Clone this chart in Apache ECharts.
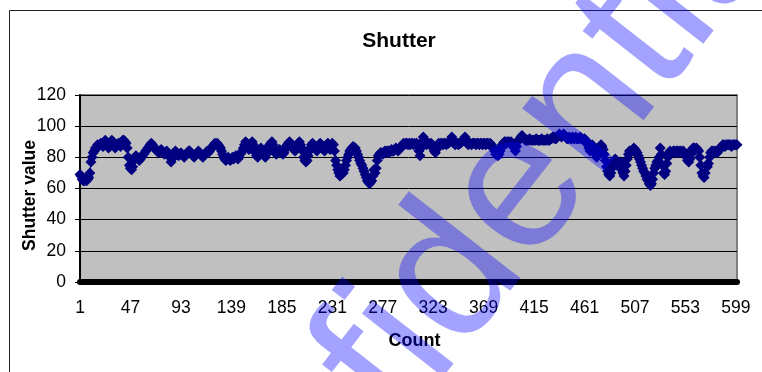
<!DOCTYPE html>
<html>
<head>
<meta charset="utf-8">
<style>
  html, body { margin: 0; padding: 0; background: #ffffff; }
  #chart { width: 762px; height: 372px; }
</style>
<script src="https://cdn.jsdelivr.net/npm/echarts@6/dist/echarts.min.js"></script>
</head>
<body>
<div id="chart"></div>
<script>
// Shutter reading for each sample, in order (samples 1..600)
const shutterValues = [
  69,68,66,65,65,66,65,66,67,70,77,80,83,84,86,86,88,87,88,89,
  88,87,89,91,90,88,86,87,89,91,90,88,86,87,88,89,88,87,89,91,
  91,90,89,86,80,75,73,72,74,78,80,81,80,79,78,79,80,81,82,83,
  84,85,86,87,88,89,88,87,86,85,84,84,83,84,85,84,83,82,83,84,
  83,82,80,77,79,82,83,84,83,82,81,82,83,82,81,80,81,82,83,84,
  84,83,82,81,80,81,82,83,84,83,82,81,80,81,82,83,84,83,84,85,
  86,87,88,89,88,89,88,87,86,84,82,80,79,78,79,80,79,78,79,80,
  79,80,81,80,79,80,82,83,84,86,88,90,89,87,85,86,88,90,88,85,
  83,81,80,82,84,86,84,82,81,80,82,85,87,88,89,90,88,85,83,82,
  83,84,85,84,83,82,83,85,87,88,89,90,89,88,86,85,84,85,87,89,
  90,88,86,84,80,78,77,78,81,84,86,88,89,88,86,85,84,86,88,89,
  88,86,85,84,86,88,89,87,85,86,89,88,84,78,75,72,70,68,69,71,
  70,72,75,78,80,82,84,85,86,87,86,86,84,82,80,78,76,75,73,71,
  69,67,65,64,63,64,65,68,72,70,73,78,81,82,83,83,82,83,84,83,
  84,84,83,84,85,84,84,85,86,85,84,85,86,87,88,89,88,89,89,88,
  89,88,89,89,88,89,88,89,87,84,81,86,90,93,91,89,88,89,89,88,
  89,88,86,84,83,85,87,89,88,89,89,88,89,89,88,89,89,90,91,93,
  91,89,88,89,89,88,89,89,90,91,92,93,91,89,88,89,89,88,89,89,
  89,88,89,89,88,89,89,88,89,89,88,89,89,88,89,88,87,86,84,82,
  83,81,82,84,86,88,89,90,90,89,90,90,89,90,89,88,86,84,87,90,
  91,92,93,94,93,92,91,91,91,91,92,91,91,91,91,91,92,91,91,91,
  91,92,91,91,91,91,92,91,91,92,92,93,93,92,92,93,94,95,94,93,
  94,95,94,93,92,92,93,92,92,93,92,92,93,92,92,92,93,92,92,91,
  92,91,90,88,86,84,86,88,87,85,82,80,81,84,86,88,87,85,82,78,
  74,71,69,68,70,73,76,78,79,78,76,74,75,77,74,70,68,71,75,79,
  82,84,83,84,85,86,85,84,83,81,79,77,75,73,71,70,68,66,65,63,
  62,63,66,70,73,75,77,78,80,86,82,75,70,69,71,76,80,83,84,83,
  83,84,84,83,84,84,83,84,84,83,84,83,82,80,78,77,79,82,85,86,
  86,85,86,85,84,80,75,70,68,67,70,75,74,76,80,83,84,84,83,84,
  84,83,84,85,86,87,88,88,87,88,88,88,88,88,87,88,88,88,88,88
];

// Count labels along the horizontal axis: 1, 2, 3, ...
const countLabels = shutterValues.map((_, i) => String(i + 1));

// Vertical scale
const yMin = 0;
const yMax = 120;
const yStep = 20;
// Show one count label every 46 samples (1, 47, 93, ... 599)
const xLabelStep = 46;

const FONT = '"Liberation Sans", Arial, sans-serif';

const chart = echarts.init(document.getElementById('chart'), null, { renderer: 'canvas' });

chart.setOption({
  animation: false,
  backgroundColor: '#ffffff',
  title: {
    text: 'Shutter',
    left: 394,
    top: 26,
    textAlign: 'center',
    textStyle: { fontFamily: FONT, fontWeight: 'bold', fontSize: 21, color: '#000000' }
  },
  grid: {
    left: 80,
    right: 25,
    top: 95,
    bottom: 90,
    outerBoundsMode: 'none',
    show: true,
    backgroundColor: '#C0C0C0',
    borderColor: '#808080',
    borderWidth: 2
  },
  xAxis: {
    type: 'category',
    data: countLabels,
    boundaryGap: false,
    offset: 3,
    name: 'Count',
    nameLocation: 'middle',
    nameGap: 47,
    nameTextStyle: { fontFamily: FONT, fontWeight: 'bold', fontSize: 18, color: '#000000', padding: [0, 0, 0, 12] },
    axisLine: { show: true, lineStyle: { color: '#000000', width: 6 } },
    axisTick: { show: false },
    axisLabel: {
      interval: xLabelStep - 1,
      margin: 14,
      fontFamily: FONT,
      fontSize: 17.5,
      color: '#000000'
    },
    splitLine: { show: false }
  },
  yAxis: {
    type: 'value',
    min: yMin,
    max: yMax,
    interval: yStep,
    name: 'Shutter value',
    nameLocation: 'middle',
    nameMoveOverlap: false,
    nameGap: 41,
    nameTextStyle: { fontFamily: FONT, fontWeight: 'bold', fontSize: 17.5, color: '#000000', padding: [0, 14, 0, 0] },
    axisLine: { show: true, lineStyle: { color: '#000000', width: 2 } },
    axisTick: { show: true, length: 5, lineStyle: { color: '#000000', width: 1 } },
    axisLabel: {
      margin: 14,
      fontFamily: FONT,
      fontSize: 17.5,
      color: '#000000'
    },
    splitLine: { show: true, lineStyle: { color: '#000000', width: 1 } }
  },
  series: [{
    type: 'line',
    data: shutterValues,
    symbol: 'diamond',
    symbolSize: 11,
    showAllSymbol: true,
    itemStyle: { color: '#000080' },
    lineStyle: { color: '#000080', width: 1 },
    z: 3
  }],
  graphic: [
    {
      // page frame
      type: 'rect',
      z: 50,
      silent: true,
      shape: { x: 9.5, y: 10.5, width: 800, height: 400 },
      style: { fill: 'none', stroke: '#222222', lineWidth: 1 }
    },
    {
      // diagonal watermark
      type: 'text',
      z: 100,
      silent: true,
      x: 456,
      y: 273,
      rotation: 52 * Math.PI / 180,
      style: {
        text: 'Confidential',
        font: 'normal 195px "Liberation Sans", Arial, sans-serif',
        fill: 'rgba(0, 0, 255, 0.36)',
        align: 'center',
        verticalAlign: 'middle'
      }
    }
  ]
});
</script>
</body>
</html>
